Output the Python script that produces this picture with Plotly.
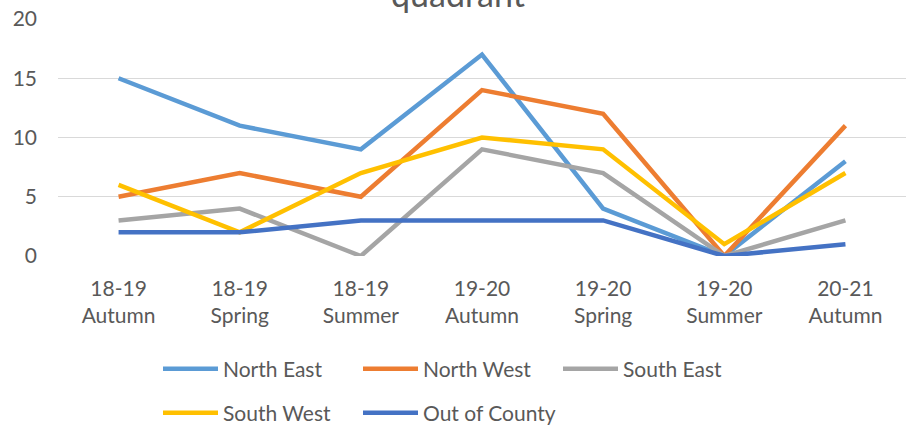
import plotly.graph_objects as go

categories = ["18-19<br>Autumn", "18-19<br>Spring", "18-19<br>Summer", "19-20<br>Autumn",
              "19-20<br>Spring", "19-20<br>Summer", "20-21<br>Autumn"]
north_east = [15, 11, 9, 17, 4, 0, 8]
north_west = [5, 7, 5, 14, 12, 0, 11]
south_east = [3, 4, 0, 9, 7, 0, 3]
south_west = [6, 2, 7, 10, 9, 1, 7]
out_of_county = [2, 2, 3, 3, 3, 0, 1]
y_ticks = [0, 5, 10, 15, 20]

series = [
    ("North East", north_east, "#5B9BD5", "legend"),
    ("North West", north_west, "#ED7D31", "legend"),
    ("South East", south_east, "#A5A5A5", "legend"),
    ("South West", south_west, "#FFC000", "legend2"),
    ("Out of County", out_of_county, "#4472C4", "legend2"),
]

FONT = "Lato"
GREY = "#595959"

fig = go.Figure()
for name, vals, color, lg in series:
    fig.add_trace(go.Scatter(x=categories, y=vals, name=name, mode="lines",
                             line=dict(color=color, width=4.5), legend=lg))

legend_common = dict(orientation="h", xanchor="left", yanchor="middle",
                     xref="container", yref="container",
                     font=dict(family=FONT, size=21, color=GREY),
                     entrywidth=130, entrywidthmode="pixels", itemwidth=55,
                     bgcolor="rgba(0,0,0,0)", traceorder="normal")

fig.update_layout(
    width=908, height=427,
    margin=dict(l=58, r=2, t=19, b=171),
    paper_bgcolor="white", plot_bgcolor="white",
    font=dict(family=FONT, color=GREY),
    legend=dict(x=158 / 908, y=1 - 369 / 427, **legend_common),
    legend2=dict(x=158 / 908, y=1 - 413 / 427, **legend_common),
    showlegend=True,
    annotations=[dict(text="quadrant", xref="paper", yref="paper", x=0.472, y=1.013,
                      xanchor="center", yanchor="bottom", showarrow=False,
                      font=dict(family=FONT, size=34, color=GREY))],
)
fig.update_xaxes(type="category", range=[-0.5, 6.5], showgrid=False, showline=False,
                 zeroline=False, ticks="", tickfont=dict(family=FONT, size=21, color=GREY),
                 ticklabelstandoff=18)
fig.update_yaxes(range=[0, 20], tickvals=y_ticks, showgrid=True, gridcolor="#D9D9D9",
                 gridwidth=1, zeroline=False, showline=False, ticks="",
                 tickfont=dict(family=FONT, size=21, color=GREY), ticklabelstandoff=20)

fig.write_html("out.html", config={"displayModeBar": False},
               post_script="document.body.style.margin='0';")
